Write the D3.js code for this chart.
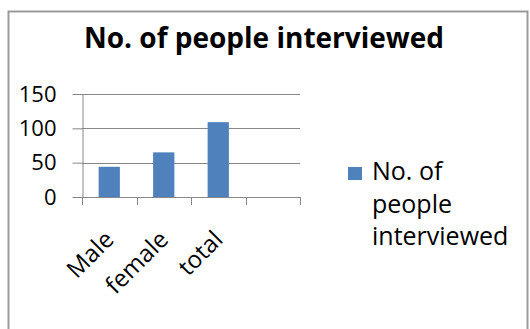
<!DOCTYPE html>
<html>
<head>
<meta charset="utf-8">
<script src="https://cdn.jsdelivr.net/npm/d3@7"></script>
<style>
  body { margin: 0; background: #fff; }
  svg { display: block; }
  text { font-family: "Open Sans", sans-serif; fill: #000; }
</style>
</head>
<body>
<div id="chart"></div>
<script>
// data
const categories = ["Male", "female", "total", ""];
const values = [44, 65, 109];
const yTicks = [0, 50, 100, 150];
const seriesName = "No. of people interviewed";
const legendLines = ["No. of", "people", "interviewed"];

const W = 530, H = 329;
const plot = {left: 82, right: 300, top: 94, bottom: 197};
const barColor = "#4f81bd";
const gridColor = "#878787";

const svg = d3.select("#chart").append("svg")
    .attr("width", W)
    .attr("height", H);

// frame of the chart area
svg.append("path")
    .attr("d", "M8.5," + H + "V11.5H527.5V" + H)
    .style("fill", "none")
    .style("stroke", "#9a9a9a")
    .style("stroke-width", 2);

svg.append("text")
    .attr("x", 264)
    .attr("y", 48)
    .attr("text-anchor", "middle")
    .style("font-size", "28px")
    .style("font-weight", "bold")
    .text(seriesName);

var x = d3.scaleBand()
    .domain(categories)
    .range([plot.left, plot.right]);

var y = d3.scaleLinear()
    .domain([0, 150])
    .range([plot.bottom, plot.top]);

// gridlines
svg.append("g").selectAll("line")
    .data(yTicks.filter(d => d > 0))
    .enter().append("line")
    .attr("x1", plot.left)
    .attr("x2", plot.right)
    .attr("y1", d => Math.round(y(d)) + 0.5)
    .attr("y2", d => Math.round(y(d)) + 0.5)
    .style("stroke", gridColor)
    .style("stroke-width", 1);

// y axis
var yAxis = svg.append("g")
    .attr("transform", "translate(" + (plot.left + 0.5) + ",0)")
    .call(d3.axisLeft(y).tickValues(yTicks).tickSize(10).tickPadding(16).tickSizeOuter(0));
yAxis.selectAll("line").style("stroke", gridColor);
yAxis.select(".domain").style("stroke", gridColor);
yAxis.selectAll("text")
    .style("font-family", "Open Sans, sans-serif")
    .style("font-size", "22px")
    .attr("fill", "#000");

// bars
var barW = x.bandwidth() * 0.39;
svg.append("g").selectAll("rect")
    .data(values)
    .enter().append("rect")
    .attr("x", (d, i) => x(categories[i]) + (x.bandwidth() - barW) / 2)
    .attr("y", d => y(d))
    .attr("width", barW)
    .attr("height", d => y(0) - y(d))
    .style("fill", barColor);

// x axis line + ticks between categories
var xg = svg.append("g");
xg.append("line")
    .attr("x1", plot.left)
    .attr("x2", plot.right)
    .attr("y1", plot.bottom + 0.5)
    .attr("y2", plot.bottom + 0.5)
    .style("stroke", gridColor);
xg.selectAll(".tick")
    .data(categories.map(c => x(c)).concat([plot.right]))
    .enter().append("line")
    .attr("x1", d => Math.round(d) + 0.5)
    .attr("x2", d => Math.round(d) + 0.5)
    .attr("y1", plot.bottom)
    .attr("y2", plot.bottom + 8)
    .style("stroke", gridColor);

// rotated category labels
xg.selectAll(".lab")
    .data(categories)
    .enter().append("text")
    .attr("text-anchor", "end")
    .attr("transform", d => "translate(" + (x(d) + x.bandwidth() / 2 + 6) + "," + (plot.bottom + 44) + ") rotate(-45)")
    .style("font-size", "24px")
    .text(d => d);

// legend
var lg = svg.append("g");
lg.append("rect")
    .attr("x", 348)
    .attr("y", 167)
    .attr("width", 14)
    .attr("height", 13)
    .style("fill", barColor);
lg.selectAll("text")
    .data(legendLines)
    .enter().append("text")
    .attr("x", 372)
    .attr("y", (d, i) => 180 + i * 32.5)
    .style("font-size", "25px")
    .text(d => d);
</script>
</body>
</html>
